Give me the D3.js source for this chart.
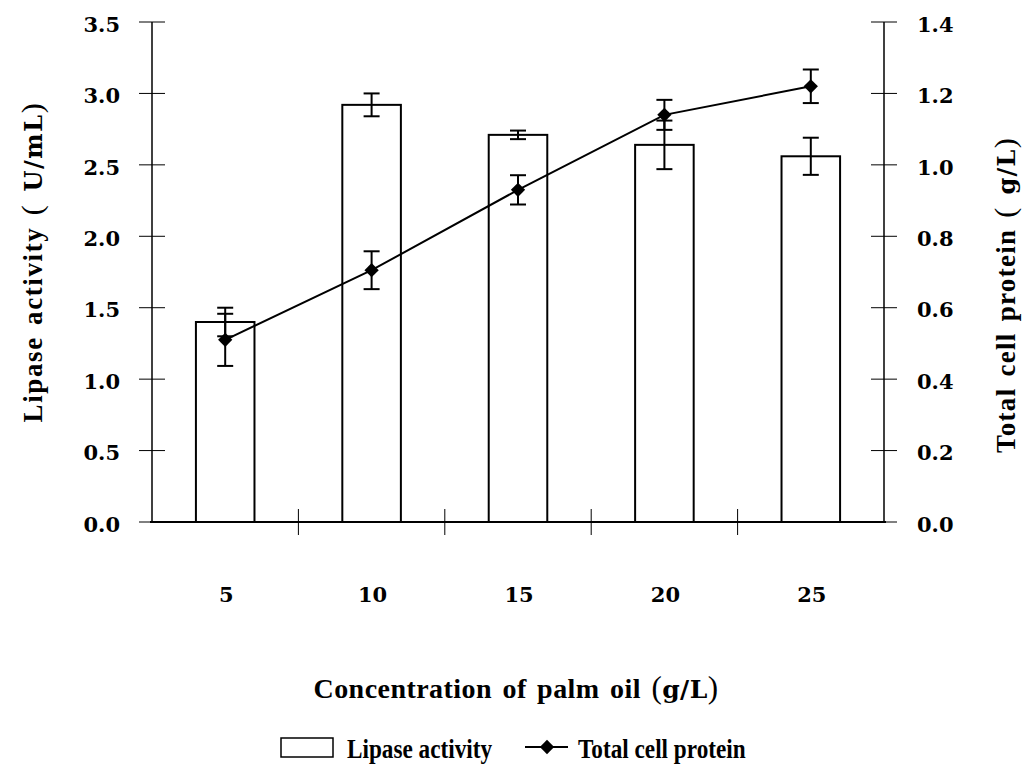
<!DOCTYPE html>
<html>
<head>
<meta charset="utf-8">
<script src="https://cdn.jsdelivr.net/npm/d3@7"></script>
<style>
  body { margin: 0; background: #fff; }
  svg { display: block; }
</style>
</head>
<body>
<script>
// data
var concentrations = ["5", "10", "15", "20", "25"];
var lipase = [1.40, 2.92, 2.71, 2.64, 2.56];
var lipase_err = [0.10, 0.08, 0.03, 0.17, 0.13];
var protein = [0.51, 0.705, 0.93, 1.14, 1.22];
var protein_err = [0.073, 0.053, 0.041, 0.042, 0.047];
var left_ticks = [0, 0.5, 1.0, 1.5, 2.0, 2.5, 3.0, 3.5];
var right_ticks = [0, 0.2, 0.4, 0.6, 0.8, 1.0, 1.2, 1.4];

// layout
var svg_width = 1023, svg_height = 767;
var plot_left = 152, plot_right = 884, plot_top = 22, plot_bottom = 522;
var tick_font = "'DejaVu Serif', serif";
var title_font = "'Liberation Serif', 'Times New Roman', serif";

var svg = d3.select("body").append("svg")
    .attr("width", svg_width).attr("height", svg_height);

var x = d3.scaleBand().domain(concentrations).range([plot_left, plot_right]).paddingInner(0).paddingOuter(0);
var y_left = d3.scaleLinear().domain([0, 3.5]).range([plot_bottom, plot_top]);
var y_right = d3.scaleLinear().domain([0, 1.4]).range([plot_bottom, plot_top]);
var bar_w = x.bandwidth() * 0.4;

function cx_of(i) { return x(concentrations[i]) + x.bandwidth() / 2; }

// bars
svg.selectAll("rect.bar").data(lipase).enter().append("rect")
    .attr("class", "bar")
    .attr("x", function(d, i) { return cx_of(i) - bar_w / 2; })
    .attr("y", function(d) { return y_left(d); })
    .attr("width", bar_w)
    .attr("height", function(d) { return plot_bottom - y_left(d); })
    .attr("fill", "#fff").attr("stroke", "#000").attr("stroke-width", 2);

// error bars helper
function error_bars(vals, errs, scale, cls) {
    var g = svg.append("g").attr("class", cls).attr("stroke", "#000").attr("stroke-width", 2);
    vals.forEach(function(v, i) {
        var cx = cx_of(i);
        var hi = scale(v + errs[i]), lo = scale(v - errs[i]);
        g.append("line").attr("x1", cx).attr("x2", cx).attr("y1", hi).attr("y2", lo);
        g.append("line").attr("x1", cx - 8).attr("x2", cx + 8).attr("y1", hi).attr("y2", hi);
        g.append("line").attr("x1", cx - 8).attr("x2", cx + 8).attr("y1", lo).attr("y2", lo);
    });
}
error_bars(lipase, lipase_err, y_left, "lipase-err");

// axes
var ax = svg.append("g").attr("stroke", "#000");
ax.append("line").attr("x1", plot_left).attr("x2", plot_left).attr("y1", plot_top).attr("y2", plot_bottom).attr("stroke-width", 1.5);
ax.append("line").attr("x1", plot_right).attr("x2", plot_right).attr("y1", plot_top).attr("y2", plot_bottom).attr("stroke-width", 1.5);
ax.append("line").attr("x1", plot_left - 2).attr("x2", plot_right + 2).attr("y1", plot_bottom).attr("y2", plot_bottom).attr("stroke-width", 2);

left_ticks.forEach(function(t) {
    ax.append("line").attr("x1", plot_left - 13).attr("x2", plot_left + 13)
        .attr("y1", y_left(t)).attr("y2", y_left(t)).attr("stroke-width", 1);
});
right_ticks.forEach(function(t) {
    ax.append("line").attr("x1", plot_right - 13).attr("x2", plot_right + 13)
        .attr("y1", y_right(t)).attr("y2", y_right(t)).attr("stroke-width", 1);
});
x.domain().forEach(function(c, i) {
    if (i == 0) return;
    ax.append("line").attr("x1", x(c)).attr("x2", x(c))
        .attr("y1", plot_bottom - 13).attr("y2", plot_bottom + 13).attr("stroke-width", 1);
});

// tick labels
svg.selectAll("text.lt").data(left_ticks).enter().append("text")
    .attr("class", "lt")
    .attr("x", 120).attr("y", function(d) { return y_left(d); })
    .attr("dy", "0.46em").attr("text-anchor", "end")
    .attr("font-family", tick_font).attr("font-weight", "bold").attr("font-size", 21)
    .text(function(d) { return d.toFixed(1); });

svg.selectAll("text.rt").data(right_ticks).enter().append("text")
    .attr("class", "rt")
    .attr("x", 917).attr("y", function(d) { return y_right(d); })
    .attr("dy", "0.46em").attr("text-anchor", "start")
    .attr("font-family", tick_font).attr("font-weight", "bold").attr("font-size", 21)
    .text(function(d) { return d.toFixed(1); });

svg.selectAll("text.xt").data(concentrations).enter().append("text")
    .attr("class", "xt")
    .attr("x", function(d, i) { return cx_of(i) + 1; })
    .attr("y", 602)
    .attr("text-anchor", "middle")
    .attr("font-family", tick_font).attr("font-weight", "bold").attr("font-size", 21)
    .text(function(d) { return d; });

// protein line + error bars + diamonds
var line = d3.line()
    .x(function(d, i) { return cx_of(i); })
    .y(function(d) { return y_right(d); });
svg.append("path").datum(protein).attr("d", line)
    .attr("fill", "none").attr("stroke", "#000").attr("stroke-width", 2);
error_bars(protein, protein_err, y_right, "protein-err");
var diamond = d3.symbol().type(d3.symbolDiamond2).size(130);
svg.selectAll("path.dot").data(protein).enter().append("path")
    .attr("class", "dot")
    .attr("d", diamond)
    .attr("transform", function(d, i) { return "translate(" + cx_of(i) + "," + y_right(d) + ")"; })
    .attr("fill", "#000");

// axis titles
function unit_title(t, label, unit, size) {
    t.append("tspan").attr("font-family", title_font).attr("font-weight", "bold").text(label + " ");
    t.append("tspan").attr("font-family", title_font).attr("font-size", size + 3).text("( ");
    t.append("tspan").attr("font-family", tick_font).attr("font-weight", "bold").attr("font-size", size - 3).text(unit);
    t.append("tspan").attr("font-family", title_font).attr("font-size", size + 3).text(")");
}

var lt = svg.append("text")
    .attr("transform", "translate(42,262) rotate(-90)")
    .attr("text-anchor", "middle").attr("font-size", 27)
    .attr("letter-spacing", 1.6).attr("word-spacing", 3);
unit_title(lt, "Lipase activity", "U/mL", 27);

var rt = svg.append("text")
    .attr("transform", "translate(1015,295) rotate(-90)")
    .attr("text-anchor", "middle").attr("font-size", 27)
    .attr("letter-spacing", 1.3).attr("word-spacing", 3);
unit_title(rt, "Total cell protein", "g/L", 27);

var xt = svg.append("text")
    .attr("x", 516).attr("y", 698)
    .attr("text-anchor", "middle").attr("font-size", 28)
    .attr("letter-spacing", 0.45).attr("word-spacing", 3);
xt.append("tspan").attr("font-family", title_font).attr("font-weight", "bold").text("Concentration of palm oil ");
xt.append("tspan").attr("font-family", title_font).attr("font-size", 31).text("(");
xt.append("tspan").attr("font-family", tick_font).attr("font-weight", "bold").attr("font-size", 25).text("g/L");
xt.append("tspan").attr("font-family", title_font).attr("font-size", 31).text(")");

// legend
var lg = svg.append("g");
lg.append("rect").attr("x", 281).attr("y", 738).attr("width", 52).attr("height", 19)
    .attr("fill", "#fff").attr("stroke", "#000").attr("stroke-width", 1.5);
lg.append("text").attr("transform", "translate(347,758) scale(0.86,1)")
    .attr("font-family", title_font).attr("font-weight", "bold").attr("font-size", 27)
    .text("Lipase activity");
lg.append("line").attr("x1", 525).attr("x2", 568).attr("y1", 747).attr("y2", 747)
    .attr("stroke", "#000").attr("stroke-width", 2);
lg.append("path").attr("d", diamond).attr("transform", "translate(547,747)").attr("fill", "#000");
lg.append("text").attr("transform", "translate(578,758) scale(0.86,1)")
    .attr("font-family", title_font).attr("font-weight", "bold").attr("font-size", 27)
    .text("Total cell protein");
</script>
</body>
</html>
